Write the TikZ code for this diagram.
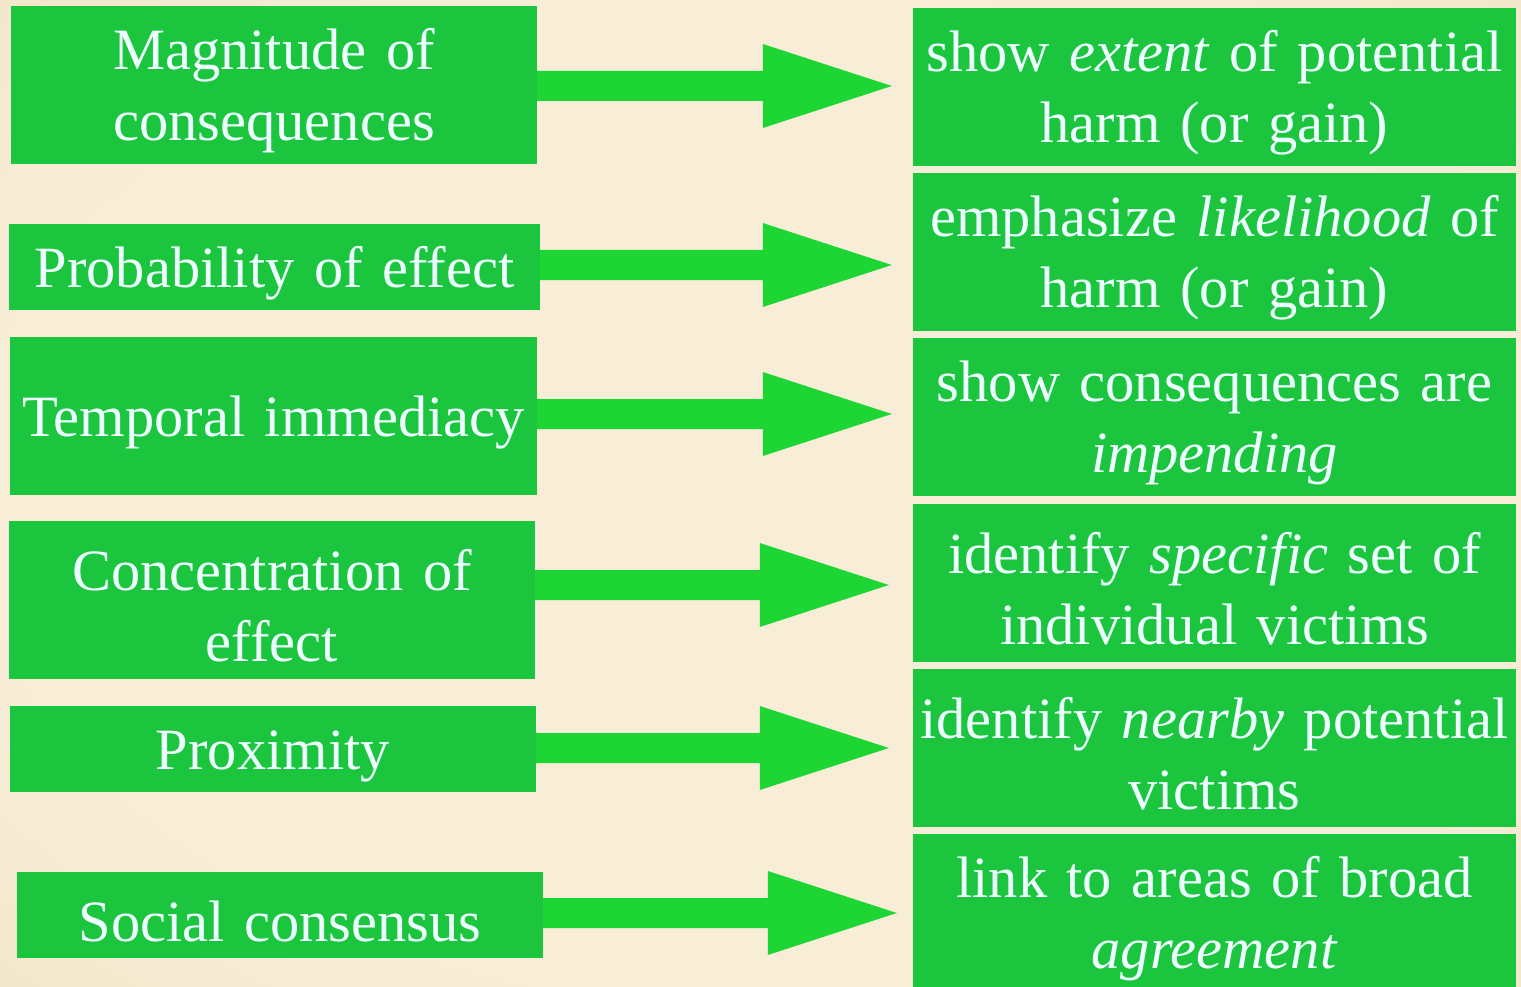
\documentclass[tikz,border=0pt]{standalone}
\usepackage{fontspec}
\setmainfont{Liberation Serif}
\usetikzlibrary{calc}
\definecolor{boxgreen}{RGB}{27,197,62}
\definecolor{arrowgreen}{RGB}{29,214,52}
\definecolor{txt}{RGB}{238,255,255}
\definecolor{bgin}{RGB}{248,238,216}
\definecolor{bgout}{RGB}{226,205,162}
\pgfdeclareradialshading{bgshade}{\pgfpoint{0bp}{0bp}}{color(0bp)=(bgin); color(25bp)=(bgin); color(72bp)=(bgout)}
\newcommand\fatarrow[2]{%
  \fill[arrowgreen] let \p1=(#1), \p2=(#2) in
    (\x1,\y1+15pt) -- (\x2-129pt,\y1+15pt) -- (\x2-129pt,\y1+42pt) -- (\x2,\y1)
    -- (\x2-129pt,\y1-42pt) -- (\x2-129pt,\y1-15pt) -- (\x1,\y1-15pt) -- cycle;}
\begin{document}
\begin{tikzpicture}[x=1pt,y=-1pt,
  gbox/.style={fill=boxgreen, text=txt, inner sep=0pt, align=center,
    font=\fontsize{58.5}{71}\selectfont,
    execute at begin node={\rule{0pt}{53pt}}},
  lbox/.style={gbox, minimum width=526, text width=520pt},
  rbox/.style={gbox, minimum width=603, minimum height=158, text width=600pt}]
\useasboundingbox (0,0) rectangle (1521,987);
\clip (0,0) rectangle (1521,987);
\shade[shading=bgshade] (0,0) rectangle (1521,987);
% left boxes
\node[lbox, minimum height=158] (L1) at (274,85) {Magnitude of\\consequences};
\node[lbox, minimum width=531, minimum height=86] (L2) at (274.5,267) {Probability of effect};
\node[lbox, minimum width=527, minimum height=158] (L3) at (273.5,416) {Temporal immediacy};
\node[lbox, minimum height=158] (L4) at (272,600) {Concentration of\\effect};
\node[lbox, minimum height=86] (L5) at (273,749) {Proximity};
\node[lbox, minimum height=86] (L6) at (280,915) {Social consensus};
% right boxes
\node[rbox] (R1) at (1214.5,87) {show \textit{extent} of potential\\harm (or gain)};
\node[rbox] (R2) at (1214.5,252) {emphasize \textit{likelihood} of\\harm (or gain)};
\node[rbox] (R3) at (1214.5,417) {show consequences are\\\textit{impending}};
\node[rbox] (R4) at (1214.5,583) {identify \textit{specific} set of\\individual victims};
\node[rbox] (R5) at (1214.5,748) {identify \textit{nearby} potential\\victims};
\node[rbox] (R6) at (1214.5,913) {link to areas of broad\\\textit{agreement}};
% arrow tips
\coordinate (t1) at ($(R1.west)+(-21,-1)$);
\coordinate (t2) at ($(R2.west)+(-21,13)$);
\coordinate (t3) at ($(R3.west)+(-21,-3)$);
\coordinate (t4) at ($(R4.west)+(-24,2)$);
\coordinate (t5) at ($(R5.west)+(-24,0)$);
\coordinate (t6) at ($(R6.west)+(-16,0)$);
\fatarrow{L1.east |- t1}{t1}
\fatarrow{L2.east |- t2}{t2}
\fatarrow{L3.east |- t3}{t3}
\fatarrow{L4.east |- t4}{t4}
\fatarrow{L5.east |- t5}{t5}
\fatarrow{L6.east |- t6}{t6}
\end{tikzpicture}
\end{document}
